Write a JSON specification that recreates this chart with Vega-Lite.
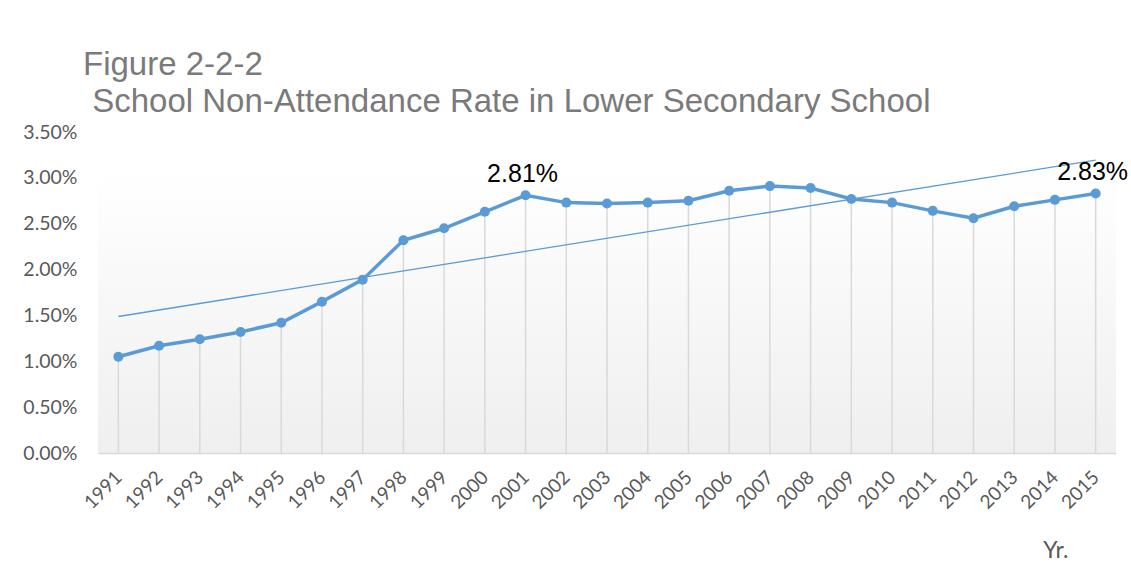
{
  "$schema": "https://vega.github.io/schema/vega-lite/v6.json",
  "autosize": "none",
  "width": 1018,
  "height": 321,
  "padding": {"left": 98, "top": 132, "right": 15, "bottom": 124},
  "background": "white",
  "view": {
    "stroke": null,
    "fill": {
      "gradient": "linear",
      "x1": 0, "y1": 0, "x2": 0, "y2": 1,
      "stops": [
        {"offset": 0, "color": "#ffffff"},
        {"offset": 0.12, "color": "#ffffff"},
        {"offset": 1, "color": "#efefef"}
      ]
    }
  },
  "title": {
    "text": ["Figure 2-2-2", "\u200b\u00a0School Non-Attendance Rate in Lower Secondary School"],
    "anchor": "start",
    "frame": "group",
    "font": "Liberation Sans",
    "fontSize": 33,
    "fontWeight": "normal",
    "color": "#7a7a7a",
    "lineHeight": 37,
    "dx": -15,
    "offset": 3
  },
  "data": {
    "values": [
      {"year": 1991, "rate": 0.0105},
      {"year": 1992, "rate": 0.0117},
      {"year": 1993, "rate": 0.0124},
      {"year": 1994, "rate": 0.0132},
      {"year": 1995, "rate": 0.0142},
      {"year": 1996, "rate": 0.0165},
      {"year": 1997, "rate": 0.0189},
      {"year": 1998, "rate": 0.0232},
      {"year": 1999, "rate": 0.0245},
      {"year": 2000, "rate": 0.0263},
      {"year": 2001, "rate": 0.0281},
      {"year": 2002, "rate": 0.0273},
      {"year": 2003, "rate": 0.0272},
      {"year": 2004, "rate": 0.0273},
      {"year": 2005, "rate": 0.0275},
      {"year": 2006, "rate": 0.0286},
      {"year": 2007, "rate": 0.0291},
      {"year": 2008, "rate": 0.0289},
      {"year": 2009, "rate": 0.0277},
      {"year": 2010, "rate": 0.0273},
      {"year": 2011, "rate": 0.0264},
      {"year": 2012, "rate": 0.0256},
      {"year": 2013, "rate": 0.0269},
      {"year": 2014, "rate": 0.0276},
      {"year": 2015, "rate": 0.0283}
    ]
  },
  "layer": [
    {
      "mark": {"type": "rule", "color": "#d9d9d9", "strokeWidth": 1.5},
      "encoding": {
        "x": {"field": "year", "type": "ordinal"},
        "y": {"field": "rate", "type": "quantitative"},
        "y2": {"datum": 0}
      }
    },
    {
      "transform": [{"regression": "rate", "on": "year", "extent": [1991, 2015]}],
      "mark": {"type": "line", "color": "#5b9bd5", "strokeWidth": 1.3},
      "encoding": {
        "x": {"field": "year", "type": "ordinal"},
        "y": {"field": "rate", "type": "quantitative"}
      }
    },
    {
      "mark": {"type": "line", "color": "#5b9bd5", "strokeWidth": 3.5, "point": {"filled": true, "size": 100, "color": "#5b9bd5", "opacity": 1}},
      "encoding": {
        "x": {
          "field": "year",
          "type": "ordinal",
          "scale": {"type": "point", "padding": 0.5},
          "axis": {
            "title": "Yr.",
            "titleFont": "Lato",
            "titleFontSize": 23,
            "titleFontWeight": "normal",
            "titleColor": "#595959",
            "titleAnchor": "end",
            "titleAlign": "right",
            "titleBaseline": "alphabetic",
            "titleX": 970,
            "titleY": 104,
            "labelAngle": -45,
            "labelAlign": "right",
            "labelBaseline": "middle",
            "labelFont": "Lato",
            "labelFontSize": 19,
            "labelColor": "#595959",
            "labelPadding": 21,
            "ticks": false,
            "domainColor": "#d9d9d9",
            "domainWidth": 1.5,
            "grid": false
          }
        },
        "y": {
          "field": "rate",
          "type": "quantitative",
          "scale": {"domain": [0, 0.035], "nice": false},
          "axis": {
            "title": null,
            "values": [0, 0.005, 0.01, 0.015, 0.02, 0.025, 0.03, 0.035],
            "format": ".2%",
            "labelFont": "Lato",
            "labelFontSize": 19.5,
            "labelColor": "#595959",
            "labelPadding": 21,
            "ticks": false,
            "domain": false,
            "grid": false
          }
        }
      }
    },
    {
      "transform": [{"filter": "datum.year == 2001 || datum.year == 2015"}],
      "mark": {"type": "text", "font": "Liberation Sans", "fontSize": 25, "color": "#000000", "baseline": "alphabetic", "dy": -13, "dx": -3},
      "encoding": {
        "x": {"field": "year", "type": "ordinal"},
        "y": {"field": "rate", "type": "quantitative"},
        "text": {"field": "rate", "type": "quantitative", "format": ".2%"}
      }
    }
  ]
}
